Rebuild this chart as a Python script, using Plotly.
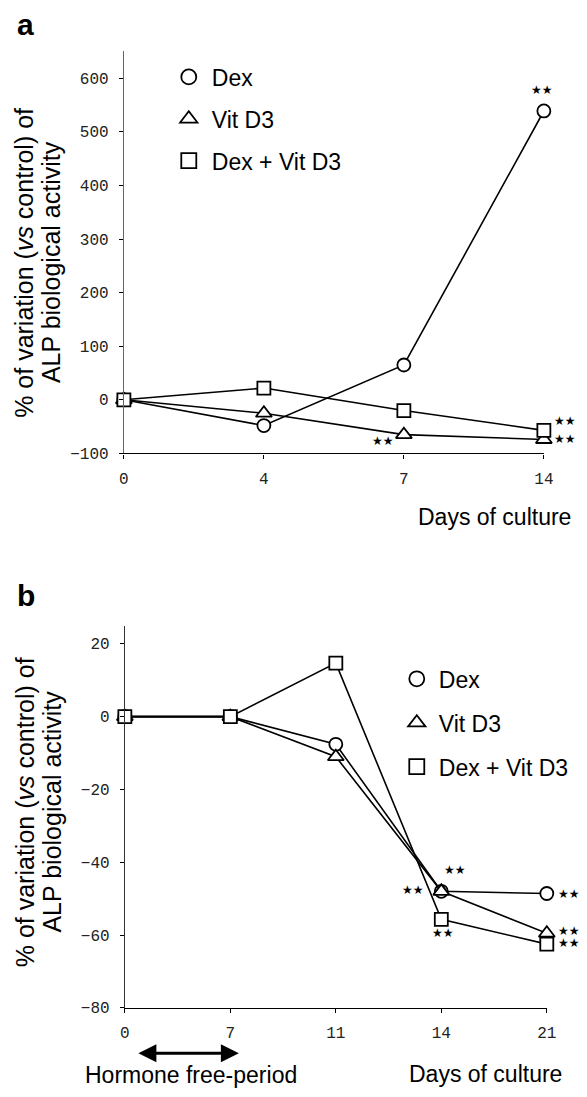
import plotly.graph_objects as go

# ---------------- data ----------------
days_a = ["0", "4", "7", "14"]
a_dex = [0, -48, 65, 539]
a_vitd3 = [0, -25, -65, -74]
a_combo = [0, 22, -20, -57]

days_b = ["0", "7", "11", "14", "21"]
b_dex = [0, 0, -7.6, -48, -48.6]
b_vitd3 = [0, 0, -11, -48, -59.5]
b_combo = [0, 0, 14.7, -55.7, -62.5]

series_names = ["Dex", "Vit D3", "Dex + Vit D3"]
symbols = ["circle", "triangle-up", "square"]
msizes = [13, 14, 13]

a_yticks = [600, 500, 400, 300, 200, 100, 0, -100]
b_yticks = [20, 0, -20, -40, -60, -80]

W, H = 587, 1097


def px(xp):
    return xp / W


def py(yp):
    return 1 - yp / H


fig = go.Figure()

mono = dict(family="Liberation Mono", size=16, color="#222")
sans = "Liberation Sans, Arial, sans-serif"
TXT = 23

# panel a traces
for name, vals, sym, ms in zip(series_names, [a_dex, a_vitd3, a_combo], symbols, msizes):
    fig.add_trace(go.Scatter(
        x=days_a, y=vals, mode="lines+markers", xaxis="x", yaxis="y",
        line=dict(color="black", width=1.6),
        marker=dict(symbol=sym, size=ms, color="white", line=dict(color="black", width=1.8)),
        showlegend=False, cliponaxis=False, name=name))
# panel b traces
for name, vals, sym, ms in zip(series_names, [b_dex, b_vitd3, b_combo], symbols, msizes):
    fig.add_trace(go.Scatter(
        x=days_b, y=vals, mode="lines+markers", xaxis="x2", yaxis="y2",
        line=dict(color="black", width=1.6),
        marker=dict(symbol=sym, size=ms, color="white", line=dict(color="black", width=1.8)),
        showlegend=False, cliponaxis=False, name=name))

# legend-only traces
for lg in ["legend", "legend2"]:
    for i, (name, sym) in enumerate(zip(series_names, symbols)):
        fig.add_trace(go.Scatter(
            x=[None], y=[None], mode="markers", name=name, legend=lg,
            legendgroup=lg + str(i),
            xaxis="x" if lg == "legend" else "x2", yaxis="y" if lg == "legend" else "y2",
            marker=dict(symbol=sym + "-open", size=15, color="black", line=dict(width=1.8))))

axis_common = dict(showgrid=False, zeroline=False, ticks="outside", ticklen=4,
                   tickcolor="black", tickfont=mono, showline=True)

fig.update_layout(
    width=W, height=H, margin=dict(l=0, r=0, t=0, b=0),
    plot_bgcolor="white", paper_bgcolor="white",
    xaxis=dict(domain=[px(122), px(553)], anchor="y", type="category",
               range=[0, 3], linecolor="black", linewidth=1.2,
               ticklabelstandoff=6, **axis_common),
    yaxis=dict(domain=[py(458), py(52)], anchor="x", range=[-100, 650],
               tickvals=a_yticks, linecolor="#666", linewidth=1,
               ticklabelstandoff=7, **axis_common),
    xaxis2=dict(domain=[px(123), px(556)], anchor="y2", type="category",
                range=[0, 4], linecolor="black", linewidth=1.2,
                ticklabelstandoff=6, **axis_common),
    yaxis2=dict(domain=[py(1018), py(632)], anchor="x2", range=[-80, 25],
                tickvals=b_yticks, linecolor="#333", linewidth=1,
                ticklabelstandoff=7, **axis_common),
    legend=dict(x=px(165), y=py(56), xanchor="left", yanchor="top",
                font=dict(family=sans, size=TXT, color="black"), itemwidth=36,
                tracegroupgap=9, traceorder="grouped", bgcolor="rgba(0,0,0,0)"),
    legend2=dict(x=px(400), y=py(664), xanchor="left", yanchor="top",
                 font=dict(family=sans, size=TXT, color="black"), itemwidth=34,
                 tracegroupgap=11, traceorder="grouped", bgcolor="rgba(0,0,0,0)"),
)

ann = []
# panel labels
ann.append(dict(text="<b>a</b>", x=px(10), y=py(25), xref="paper", yref="paper",
                xanchor="left", yanchor="middle", showarrow=False,
                font=dict(family=sans, size=30, color="black")))
ann.append(dict(text="<b>b</b>", x=px(10), y=py(602), xref="paper", yref="paper",
                xanchor="left", yanchor="middle", showarrow=False,
                font=dict(family=sans, size=30, color="black")))

# y-axis titles
for yc in [265, 820]:
    ann.append(dict(text="% of variation (<i>vs</i> control) of", x=px(20), y=py(yc),
                    xref="paper", yref="paper", textangle=-90, showarrow=False,
                    xanchor="center", yanchor="middle",
                    font=dict(family=sans, size=25, color="black")))
    ann.append(dict(text="ALP biological activity", x=px(48), y=py(yc),
                    xref="paper", yref="paper", textangle=-90, showarrow=False,
                    xanchor="center", yanchor="middle",
                    font=dict(family=sans, size=25, color="black")))

# x-axis titles
ann.append(dict(text="Days of culture", x=px(583), y=py(522), xref="paper", yref="paper",
                xanchor="right", yanchor="middle", showarrow=False,
                font=dict(family=sans, size=TXT, color="black")))
ann.append(dict(text="Days of culture", x=px(574), y=py(1085), xref="paper", yref="paper",
                xanchor="right", yanchor="middle", showarrow=False,
                font=dict(family=sans, size=TXT, color="black")))
ann.append(dict(text="Hormone free-period", x=px(80), y=py(1086), xref="paper", yref="paper",
                xanchor="left", yanchor="middle", showarrow=False,
                font=dict(family=sans, size=TXT, color="black")))
# double arrow
ann.append(dict(text="", x=px(240), y=py(1064), xref="paper", yref="paper",
                ax=-102, ay=0, axref="pixel", ayref="pixel", showarrow=True,
                arrowhead=2, startarrowhead=2, arrowside="end+start",
                arrowsize=1.2, startarrowsize=1.2, arrowwidth=3, arrowcolor="black"))

star = dict(family="DejaVu Sans", size=12, color="black")


def stars(xref, yref, x, y, xs, ys):
    ann.append(dict(text="★★", x=x, y=y, xref=xref, yref=yref, xshift=xs, yshift=ys,
                    showarrow=False, font=star))


# panel a significance marks
stars("x", "y", 3, a_dex[3], -2, 21)
stars("x", "y", 2, a_vitd3[2], -21, -6)
stars("x", "y", 3, a_combo[3], 21, 9)
stars("x", "y", 3, a_vitd3[3], 21, 0)
# panel b significance marks
stars("x2", "y2", 3, b_dex[3], 14, 21)
stars("x2", "y2", 3, b_dex[3], -28, 1)
stars("x2", "y2", 3, b_combo[3], 2, -14)
stars("x2", "y2", 4, b_dex[4], 22, 0)
stars("x2", "y2", 4, b_vitd3[4], 22, 2)
stars("x2", "y2", 4, b_combo[4], 22, 1)

fig.update_layout(annotations=ann)
fig.write_html("out.html")
